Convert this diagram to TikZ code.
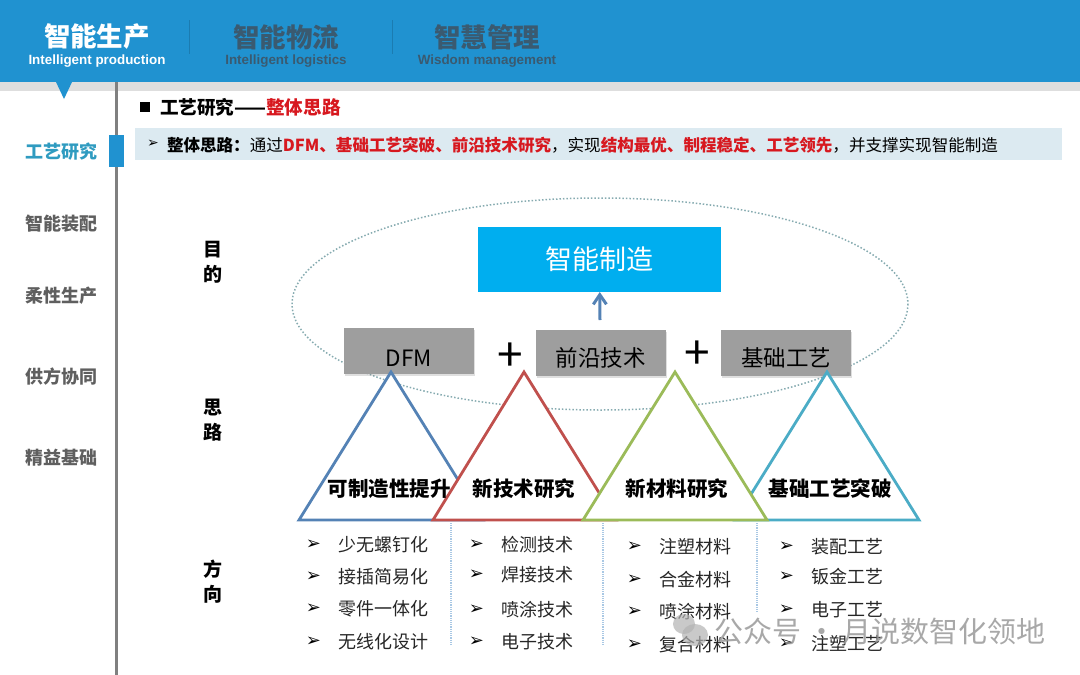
\documentclass[tikz,border=0pt]{standalone}
\usepackage{fontspec}
\setmainfont{Noto Sans CJK SC}
\newfontfamily\latinfont{Liberation Sans}
\newfontfamily\dingfont{DejaVu Sans}
\usetikzlibrary{positioning,arrows.meta,shadows}
\newcommand{\fs}[1]{\fontsize{#1}{#1}\selectfont}
\definecolor{headblue}{HTML}{2092D0}
\definecolor{headdark}{HTML}{3A5A70}
\definecolor{sidegray}{HTML}{5F5F5F}
\definecolor{sideblue}{HTML}{2F9BC0}
\definecolor{accred}{HTML}{D7181F}
\definecolor{barblue}{HTML}{DCEAF1}
\definecolor{goalblue}{HTML}{00AEEF}
\definecolor{triblue}{HTML}{5482B5}
\definecolor{trired}{HTML}{C0504D}
\definecolor{trigreen}{HTML}{9BBB59}
\definecolor{triteal}{HTML}{4BACC6}
\definecolor{ringgray}{HTML}{86ABB0}
\definecolor{linklight}{HTML}{A9C8E4}
\begin{document}
\begin{tikzpicture}[x=1pt,y=-1pt,
  every node/.style={inner sep=0pt,outer sep=0pt},
  tab/.style={font=\fs{26.5}\bfseries,text=headdark},
  tabsub/.style={font=\latinfont\fs{13.4}\bfseries,text=headdark},
  side/.style={font=\fs{18}\bfseries,text=sidegray},
  aim/.style={font=\fs{19}\bfseries,align=center},
  grey/.style={fill=black!38,minimum width=130pt,minimum height=46pt,font=\fs{22.5},
    drop shadow={shadow xshift=1pt,shadow yshift=-2pt,opacity=.25}},
  plus/.style={font=\fs{46}},
  tri/.style={line width=2.8pt,fill=white,line join=miter},
  topic/.style={font=\fs{20.5}\bfseries},
  item/.style={anchor=west,font=\fs{18},text=black!85,
    label={[font=\dingfont\fs{18},text=black,label distance=17pt]left:➢}},
  divide/.style={densely dotted,line width=1.2pt,draw=linklight},
  arr/.style={-{Straight Barb[length=3.4mm,width=4.6mm]},line width=3pt,draw=triblue}]
  \useasboundingbox (0,0) rectangle (1080,675);
  % top band
  \fill[black!13] (0,82) rectangle (1080,91);
  \fill[headblue] (0,0) rectangle (1080,82);
  \fill[headblue] (56,82) -- (72,82) -- (64,99) -- cycle;
  \draw[headblue!85!black,line width=.8pt] (189,20) -- (189,54);
  \draw[headblue!85!black,line width=.8pt] (392,20) -- (392,54);
  \node[tab,text=white] (prod) at (97,37) {智能生产};
  \node[tabsub,text=white] (prodsub) at (97,61) {Intelligent production};
  \node[tab] (logi) at (286,37) {智能物流};
  \node[tabsub] (logisub) at (286,61) {Intelligent logistics};
  \node[tab] (manage) at (487,37) {智慧管理};
  \node[tabsub] (managesub) at (487,61) {Wisdom management};
  % left rail
  \fill[black!50] (114.5,82) rectangle (118,675);
  \fill[headblue] (109,135) rectangle (124,167);
  \node[side,text=sideblue] (craft) at (61,152) {工艺研究};
  \node[side] (assembly) at (61,224) {智能装配};
  \node[side] (flex) at (61,296) {柔性生产};
  \node[side] (supply) at (61,377) {供方协同};
  \node[side] (lean) at (61,458) {精益基础};
  % title and summary
  \fill (140,102) rectangle (150,112);
  \node[anchor=west,font=\fs{18.6}\bfseries] (title) at (160,107) {工艺研究——\textcolor{accred}{整体思路}};
  \fill[barblue] (135,128) rectangle (1062,160);
  \node[font=\dingfont\fs{14}] (mark) at (153,144) {➢};
  \node[anchor=west,font=\fs{16.55}] (summary) at (167,145) {\textbf{整体思路：}通过\textcolor{accred}{\textbf{DFM、基础工艺突破、前沿技术研究}}，实现\textcolor{accred}{\textbf{结构最优、制程稳定、工艺领先}}，并支撑实现智能制造};
  % row labels
  \node[aim] (aimgoal) at (213,262) {目\\[6pt]的};
  \node[aim] (aimidea) at (213,420) {思\\[6pt]路};
  \node[aim] (aimway) at (213,582) {方\\[6pt]向};
  % purpose and ideas
  \draw[dotted,line width=1.5pt,draw=ringgray] (600,304) ellipse (308 and 106);
  \node[fill=goalblue,text=white,minimum width=243pt,minimum height=65pt,font=\fs{27}] (goal) at (599.5,259.5) {智能制造};
  \coordinate (up) at (600,320);
  \draw[arr] (up) -- (goal);
  \node[grey] (dfm) at (409,351) {\raisebox{-15pt}[0pt][0pt]{DFM}};
  \node[grey] (front) at (600.5,352.5) {\raisebox{-14pt}[0pt][0pt]{前沿技术}};
  \node[grey] (base) at (786,353) {\raisebox{-13pt}[0pt][0pt]{基础工艺}};
  \node[plus] (plusa) at (510,357) {+};
  \node[plus] (plusb) at (697,355) {+};
  % triangles
  \draw[tri,draw=triblue] (391,372) -- (483,520) -- (299,520) -- cycle;
  \draw[tri,draw=trired] (524,372) -- (616,520) -- (433,520) -- cycle;
  \draw[tri,draw=triteal] (827,372) -- (919,520) -- (735,520) -- cycle;
  \draw[tri,draw=trigreen] (675,372) -- (767,520) -- (583,520) -- cycle;
  \node[topic] (make) at (389,489) {可制造性提升};
  \node[topic] (tech) at (524,489) {新技术研究};
  \node[topic] (material) at (677,489) {新材料研究};
  \node[topic] (basic) at (830,489) {基础工艺突破};
  % dividers
  \coordinate (da) at (451,523); \coordinate (db) at (451,645);
  \coordinate (dc) at (603,523); \coordinate (dd) at (603,645);
  \coordinate (de) at (757,523); \coordinate (df) at (757,612);
  \draw[divide] (da) -- (db);
  \draw[divide] (dc) -- (dd);
  \draw[divide] (de) -- (df);
  % directions
  \node[item] (aa) at (338,545) {少无螺钉化};
  \node[item] (ab) at (338,577) {接插简易化};
  \node[item] (ac) at (338,609) {零件一体化};
  \node[item] (ad) at (338,642) {无线化设计};
  \node[item] (ba) at (501,545) {检测技术};
  \node[item] (bb) at (501,575) {焊接技术};
  \node[item] (bc) at (501,610) {喷涂技术};
  \node[item] (bd) at (501,642) {电子技术};
  \node[item] (ca) at (659,547) {注塑材料};
  \node[item] (cb) at (659,580) {合金材料};
  \node[item] (cc) at (659,612) {喷涂材料};
  \node[item] (cd) at (659,645) {复合材料};
  \node[item] (da1) at (811,547) {装配工艺};
  \node[item] (db1) at (811,577) {钣金工艺};
  \node[item] (dc1) at (811,610) {电子工艺};
  \node[item] (dd1) at (811,644) {注塑工艺};
  % watermark
  \fill[black!30,opacity=.7] (684,624) ellipse (11 and 10);
  \fill[black!30,opacity=.7] (695,635) ellipse (13 and 11);
  \node[anchor=west,font=\fs{29},text=black!40,opacity=.85] (stamp) at (714,631) {公众号 · 月说数智化领地};
\end{tikzpicture}
\end{document}
